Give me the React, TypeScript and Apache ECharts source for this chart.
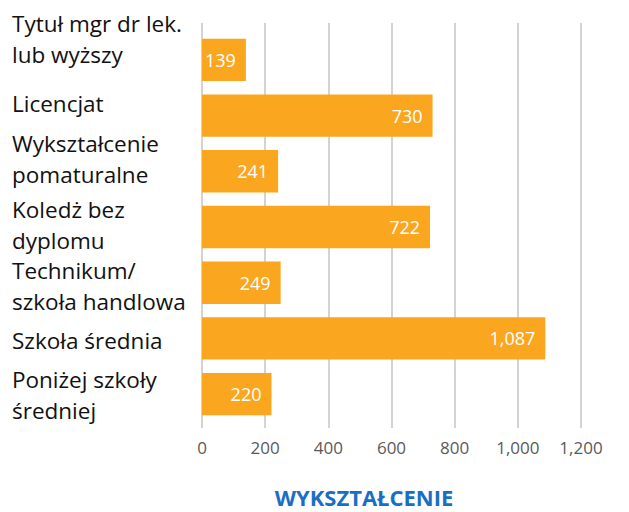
import React, { useEffect, useRef } from "react";
import * as echarts from "echarts";

const categories = [
  "Tytuł mgr dr lek.\nlub wyższy",
  "Licencjat",
  "Wykształcenie\npomaturalne",
  "Koledż bez\ndyplomu",
  "Technikum/\nszkoła handlowa",
  "Szkoła średnia",
  "Poniżej szkoły\nśredniej",
];
const values = [139, 730, 241, 722, 249, 1087, 220];
const labelShift = [-21, -12, -12, -2, 3, 2, 1];
const xTicks = [0, 1200, 200];
const titleText = "WYKSZTAŁCENIE";

const FONT = "'Open Sans', 'Noto Sans', sans-serif";

export default function App() {
  const ref = useRef<HTMLDivElement>(null);
  useEffect(() => {
    if (!ref.current) return;
    const chart = echarts.init(ref.current, null, { renderer: "svg" });
    const fmt = (v: number) => v.toLocaleString("en-US");
    const rich: Record<string, any> = {
      t: { fontSize: 22.5, lineHeight: 31, color: "#111111", fontFamily: FONT, align: "left" },
    };
    labelShift.forEach((d, i) => {
      rich["s" + i] = { fontSize: 1, lineHeight: Math.max(1, Math.abs(2 * d)), align: "left" };
    });
    chart.setOption({
      animation: false,
      backgroundColor: "#ffffff",
      title: {
        text: titleText,
        left: 364,
        textAlign: "center",
        top: 486,
        padding: 0,
        textStyle: { color: "#1A6FC4", fontSize: 22, fontWeight: "bold", fontFamily: FONT, lineHeight: 22 },
      },
      grid: [
        { left: 202, right: 48, top: 23, bottom: 84, outerBoundsMode: "none", containLabel: false },
        { left: 202, right: 48, top: 32, bottom: 90, outerBoundsMode: "none", containLabel: false },
      ],
      xAxis: [
        {
          gridIndex: 0,
          type: "value",
          min: xTicks[0],
          max: xTicks[1],
          interval: xTicks[2],
          axisLine: { show: false },
          axisTick: { show: false },
          splitLine: { show: true, lineStyle: { color: "#c4c4c4", width: 1.5 } },
          axisLabel: {
            margin: 11,
            color: "#595959",
            fontSize: 17,
            fontFamily: FONT,
            formatter: (v: number) => fmt(v),
          },
        },
        {
          gridIndex: 1,
          type: "value",
          min: xTicks[0],
          max: xTicks[1],
          interval: xTicks[2],
          show: false,
        },
      ],
      yAxis: [
        { gridIndex: 0, type: "value", show: false },
        {
          gridIndex: 1,
          type: "category",
          inverse: true,
          data: categories,
          axisLine: { show: false },
          axisTick: { show: false },
          axisLabel: {
            interval: 0,
            hideOverlap: false,
            align: "left",
            verticalAlign: "middle",
            margin: 190,
            rich,
            formatter: (value: string, index: number) => {
              const d = labelShift[index];
              const body = value
                .split("\n")
                .map((l) => `{t|${l}}`)
                .join("\n");
              const sp = `{s${index}| }`;
              if (d < 0) return body + "\n" + sp;
              if (d > 0) return sp + "\n" + body;
              return body;
            },
          },
        },
      ],
      series: [
        {
          type: "bar",
          xAxisIndex: 1,
          yAxisIndex: 1,
          data: values,
          barCategoryGap: "24%",
          itemStyle: { color: "#FAA61F" },
          label: {
            show: true,
            position: "insideRight",
            distance: 10,
            color: "#ffffff",
            fontSize: 18,
            fontFamily: FONT,
            formatter: (p: any) => fmt(p.value),
          },
        },
      ],
    });
    return () => chart.dispose();
  }, []);
  return <div ref={ref} style={{ width: 629, height: 512, position: "absolute", left: 0, top: 0 }} />;
}
